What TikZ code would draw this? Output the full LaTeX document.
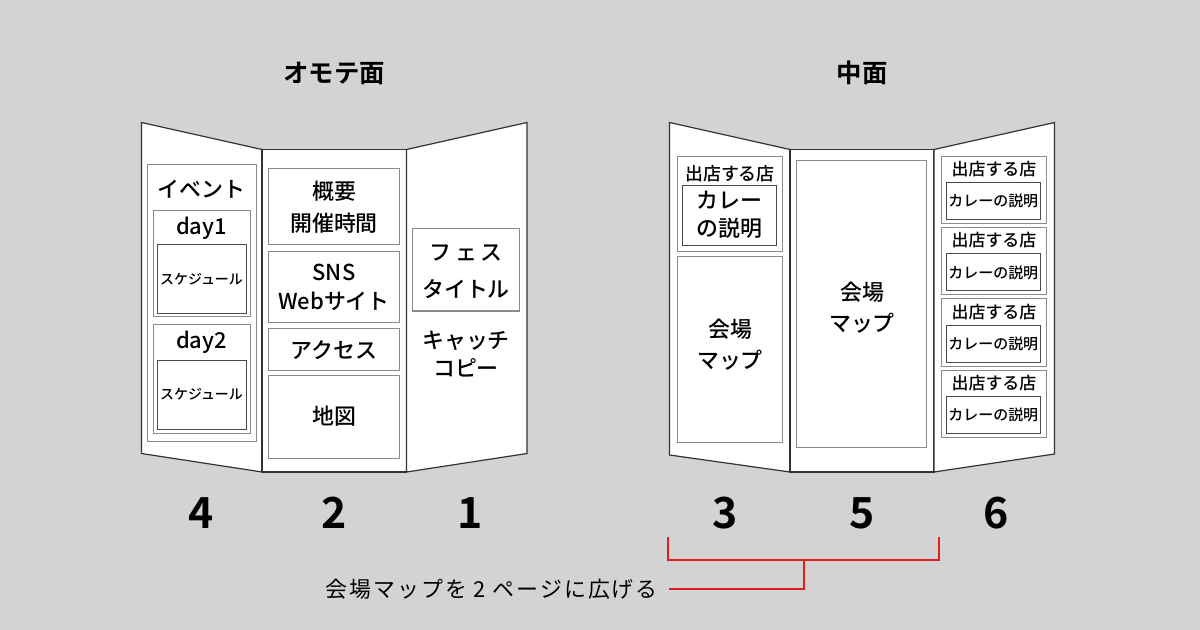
\documentclass[tikz,border=0pt]{standalone}
\usepackage{fontspec}
\IfFontExistsTF{Noto Sans CJK JP Medium}{%
  \setmainfont{Noto Sans CJK JP Medium}%
  \newfontfamily\medfont{Noto Sans CJK JP Bold}%
}{%
  \setmainfont{Noto Sans CJK JP}%
  \newfontfamily\medfont{Noto Sans CJK JP Bold}%
}
\newfontfamily\notefont[LetterSpace=9]{Noto Sans CJK JP}
\definecolor{bg}{HTML}{D3D3D3}
\definecolor{edge}{HTML}{333333}
\definecolor{boxline}{HTML}{8A8A8A}
\definecolor{darkline}{HTML}{4A4A4A}
\definecolor{redline}{HTML}{E02020}
\tikzset{
  panel/.style={fill=white,draw=edge,line width=1.2bp,line join=miter},
  sbox/.style={fill=white,draw=boxline,line width=1bp},
  dbox/.style={fill=white,draw=darkline,line width=1bp},
  title/.style={font=\medfont\fontsize{25.5}{30}\selectfont,inner sep=0pt},
  num/.style={font=\medfont\fontsize{43}{50}\selectfont,inner sep=0pt},
  txt/.style={font=\fontsize{22}{30}\selectfont,align=center,inner sep=0pt},
  small/.style={font=\fontsize{14}{16}\selectfont,inner sep=0pt},
  mid/.style={font=\fontsize{17}{20}\selectfont,inner sep=0pt},
  bracket/.style={draw=redline,line width=2.6bp,line join=miter}
}
\begin{document}
\begin{tikzpicture}[x=1bp,y=-1bp]
\fill[bg] (0,0) rectangle (1200,630);
\useasboundingbox (0,0) rectangle (1200,630);

% ---- titles
\node[title] (tf) at (334,73) {オモテ面};
\node[title] (tn) at (862,73) {中面};

% ---- front brochure panels
\draw[panel] (141.5,122.5) -- (262,149.5) -- (262,472) -- (141.5,453.5) -- cycle;
\draw[panel] (262,149.5) rectangle (406.5,472);
\draw[panel] (406.5,149.5) -- (527,122.5) -- (527,453.5) -- (406.5,472) -- cycle;

% panel 4
\draw[sbox] (147.5,165) rectangle (256,441.5);
\node[txt] (ev) at (201.5,189) {イベント};
\draw[sbox] (153.5,211) rectangle (250,316.5);
\node[txt] (d1) at (201.5,228.5) {day1};
\draw[dbox] (157.5,245) rectangle (246,313);
\node[small] (s1) at (201.5,279) {スケジュール};
\draw[sbox] (153.5,324.5) rectangle (250,433.5);
\node[txt] (d2) at (201.5,342) {day2};
\draw[dbox] (157.5,360) rectangle (246,429.5);
\node[small] (s2) at (201.5,394.5) {スケジュール};

% panel 2
\draw[sbox] (268.5,169) rectangle (399.5,245);
\node[txt,font=\fontsize{22}{32}\selectfont] (ov) at (334,207) {概要\\開催時間};
\draw[sbox] (268.5,251.5) rectangle (399.5,322.5);
\node[txt,font=\fontsize{22}{29}\selectfont] (sns) at (334,287.5) {SNS\\Webサイト};
\draw[sbox] (268.5,328.5) rectangle (399.5,370.5);
\node[txt] (ac) at (334,350) {アクセス};
\draw[sbox] (268.5,375) rectangle (399.5,458.5);
\node[txt] (mp) at (334,416.5) {地図};

% panel 1
\draw[sbox] (412.5,228.5) rectangle (519,311);
\node[txt,font=\fontsize{22}{37}\selectfont] (fes) at (466,271.5) {フ\,ェ\,ス\\タイトル};
\node[txt,font=\fontsize{22}{28}\selectfont] (cc) at (466,354) {キャッチ\\コピー};

% ---- inner brochure panels
\draw[panel] (669.5,122.5) -- (790,149.5) -- (790,472) -- (669.5,455) -- cycle;
\draw[panel] (790,149.5) rectangle (934,472);
\draw[panel] (934,149.5) -- (1054.5,122.5) -- (1054.5,454) -- (934,472) -- cycle;

% panel 3
\draw[sbox] (677.5,156.5) rectangle (782.5,251.5);
\node[mid,font=\fontsize{18}{20}\selectfont] (sh3) at (730,173.5) {出店する店};
\draw[dbox] (682.5,186) rectangle (776,246);
\node[txt,font=\fontsize{22}{28}\selectfont] (cu3) at (729.5,215) {カレー\\の説明};
\draw[sbox] (677.5,256.5) rectangle (782.5,442.5);
\node[txt,font=\fontsize{22}{31}\selectfont] (mp3) at (730,345) {会場\\マップ};

% panel 5
\draw[sbox] (796.5,160.5) rectangle (926,447.5);
\node[txt,font=\fontsize{22}{31}\selectfont] (mp5) at (862,308) {会場\\マップ};

% panel 6
\foreach \i/\t/\b in {1/156.5/223.5, 2/227.5/295, 3/299/366.5, 4/370/437.5}{
  \draw[sbox] (941.5,\t) rectangle (1046.5,\b);
  \node[mid] (sh6\i) at (994,\t+13) {出店する店};
  \draw[dbox] (946,\t+26.5) rectangle (1040.5,\b-4);
  \node[small,font=\fontsize{15}{16}\selectfont] (cu6\i) at (993.3,{(\t+26.5+\b-4)/2}) {カレーの説明};
}

% ---- page numbers
\node[num] (n4) at (201,513) {4};
\node[num] (n2) at (334,513) {2};
\node[num] (n1) at (470,513) {1};
\node[num] (n3) at (725,513) {3};
\node[num] (n5) at (862,513) {5};
\node[num] (n6) at (996,513) {6};

% ---- red bracket
\coordinate (bl) at (668,537);
\coordinate (br) at (939,537);
\coordinate (bm) at (804,560);
\coordinate (be) at (669,589);
\draw[bracket] (bl) |- (bm) -| (br);
\draw[bracket] (bm) |- (be);
\node[font=\notefont\fontsize{22}{24}\selectfont,inner sep=0pt,anchor=east] (note) at (658,589) {会場マップを 2 ページに広げる};
\end{tikzpicture}
\end{document}
